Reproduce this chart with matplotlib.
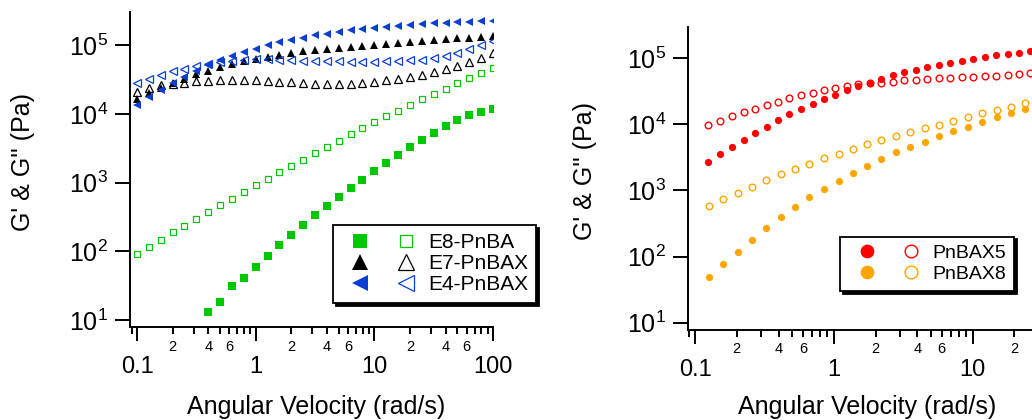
import numpy as np
import matplotlib
matplotlib.use('Agg')
import matplotlib.pyplot as plt
from matplotlib.ticker import LogLocator, FuncFormatter, NullLocator

plt.rcParams['font.family'] = ['Liberation Sans', 'DejaVu Sans']
plt.rcParams['mathtext.fontset'] = 'custom'
plt.rcParams['mathtext.rm'] = 'Liberation Sans'
plt.rcParams['mathtext.it'] = 'Liberation Sans:italic'
plt.rcParams['mathtext.bf'] = 'Liberation Sans:bold'

# left panel: frequency sweep, rad/s
omega_left = [0.1, 0.1259, 0.1585, 0.1995, 0.2512, 0.3162, 0.3981, 0.5012, 0.6310, 0.7943,
              1.0, 1.259, 1.585, 1.995, 2.512, 3.162, 3.981, 5.012, 6.310, 7.943,
              10.0, 12.59, 15.85, 19.95, 25.12, 31.62, 39.81, 50.12, 63.10, 79.43, 100.0]

e8_storage = [12.9, 18.3, 30.9, 40.4, 59.8, 85.5, 122, 171, 239, 334, 452, 611, 826,
              1080, 1460, 1910, 2500, 3270, 4180, 5290, 6680, 8080, 9670, 10600, 11800]
e8_loss = [91, 117, 146, 189, 234, 292, 370, 468, 578, 731, 915, 1130, 1410, 1750, 2160,
           2700, 3300, 4040, 5060, 6190, 7570, 9360, 11100, 13500, 16400, 19600, 23400,
           28000, 33400, 39500, 46200]
e7_storage = [16500, 20000, 24200, 28000, 32700, 38300, 42800, 47900, 54100, 59200, 62600,
              67700, 72300, 76400, 81800, 84600, 88500, 91500, 94600, 97800, 101000, 106000,
              109000, 112000, 116000, 120000, 124000, 127000, 129000, 132000, 135000]
e7_loss = [20900, 23900, 26200, 27600, 28600, 29900, 30200, 30900, 31300, 31300, 30900,
           29900, 29600, 28900, 28000, 27300, 27000, 27300, 27600, 28300, 29600, 30900,
           32700, 34600, 37000, 40900, 44700, 50600, 56500, 66100, 77300]
e4_storage = [13700, 17900, 22400, 28000, 34200, 41800, 51100, 60500, 69900, 80000, 89400,
              100000, 111000, 120000, 129000, 140000, 148000, 156000, 165000, 173000, 179000,
              187000, 193000, 200000, 205000, 209000, 214000, 219000, 221000, 224000, 226000]
e4_loss = [28300, 32300, 37000, 41800, 45700, 50000, 53500, 57200, 59800, 61200, 62600,
           62600, 61200, 60500, 59200, 59200, 58500, 58500, 57800, 57200, 57200, 58500,
           59200, 60500, 61200, 65400, 70000, 77300, 87500, 101000, 117000]

# right panel
omega_x5 = [0.1247, 0.1522, 0.1847, 0.2241, 0.2705, 0.3282, 0.3961, 0.4781, 0.580, 0.7036,
            0.8449, 1.025, 1.237, 1.501, 1.812, 2.198, 2.668, 3.202, 3.906, 4.716, 5.690,
            6.905, 8.380, 10.11, 12.20, 14.81, 17.87, 21.57, 26.03]
x5_storage = [2670, 3570, 4600, 5880, 7500, 9250, 11700, 14200, 17100, 20600, 24500, 28200,
              33200, 38100, 42400, 48700, 55300, 61400, 66600, 73100, 80200, 86000, 92200,
              97700, 104800, 111100, 116400, 121900, 127600]
x5_loss = [9910, 11400, 13300, 15200, 17300, 19400, 21800, 24800, 27600, 29900, 32800, 35600,
           38100, 40300, 41900, 42900, 44400, 46500, 47500, 49200, 49800, 50900, 51500, 52700,
           53300, 54700, 55900, 57200, 59300]

omega_x8 = [0.1255, 0.1591, 0.2031, 0.2562, 0.3264, 0.4143, 0.5254, 0.6661, 0.8457, 1.085,
            1.368, 1.744, 2.199, 2.806, 3.540, 4.517, 5.728, 7.260, 9.267, 11.75, 14.92,
            18.91, 23.97]
x8_storage = [49.6, 77.3, 117, 178, 271, 397, 569, 798, 1054, 1393, 1841, 2324, 2998, 3826,
              4508, 5475, 6683, 7870, 9230, 10870, 12800, 14720, 17290]
x8_loss = [589, 736, 926, 1142, 1427, 1758, 2115, 2543, 3069, 3605, 4246, 5002, 5745, 6683,
           7677, 8733, 9891, 11250, 12800, 14720, 16520, 18530, 21100]

green = '#00c800'
blue = '#0a3fd2'
red = '#ff0000'
orange = '#ffa500'


def minor_label(v, pos):
    m = v / 10 ** np.floor(np.log10(v) + 1e-9)
    k = int(round(m))
    return str(k) if k in (2, 4, 6) else ''


def style_axes(ax, xlim, ylim):
    ax.set_xscale('log')
    ax.set_yscale('log')
    ax.set_xlim(*xlim)
    ax.set_ylim(*ylim)
    for s in ['top', 'right']:
        ax.spines[s].set_visible(False)
    for s in ['left', 'bottom']:
        ax.spines[s].set_linewidth(1.4)
    ax.xaxis.set_major_locator(LogLocator(base=10))
    ax.xaxis.set_minor_locator(LogLocator(base=10, subs=np.arange(2, 10)))
    ax.xaxis.set_major_formatter(FuncFormatter(lambda v, p: '%g' % v))
    ax.xaxis.set_minor_formatter(FuncFormatter(minor_label))
    ax.yaxis.set_major_locator(LogLocator(base=10))
    ax.yaxis.set_minor_locator(NullLocator())
    ax.yaxis.set_major_formatter(FuncFormatter(lambda v, p: '$10^{%d}$' % round(np.log10(v))))
    ax.tick_params(axis='x', which='major', length=10, width=1.4, pad=11, labelsize=17)
    ax.tick_params(axis='x', which='minor', length=5, width=1.4, pad=4, labelsize=10.5)
    ax.tick_params(axis='y', which='major', length=11, width=1.4, pad=5, labelsize=18)
    ax.set_xlabel('Angular Velocity (rad/s)', fontsize=18)
    ax.set_ylabel("G' & G'' (Pa)", fontsize=18)


fig = plt.figure(figsize=(10.32, 4.2), dpi=100)
ax1 = fig.add_axes([0.126, 0.2214, 0.3517, 0.75])
# right panel runs off the right edge of the picture
ax2 = fig.add_axes([0.667, 0.2143, 1 - 0.667, 0.7221])

style_axes(ax1, (0.0873, 100), (7.9, 3.05e5))
style_axes(ax2, (0.0895, 26.8), (7.76, 3.0e5))

ms = 5.2
h1 = ax1.plot(omega_left[6:], e8_storage, ls='none', marker='s', ms=ms, color=green, mew=0)[0]
h2 = ax1.plot(omega_left, e8_loss, ls='none', marker='s', ms=ms - 0.6, color=green, mfc='none', mew=0.9)[0]
h3 = ax1.plot(omega_left, e7_storage, ls='none', marker='^', ms=ms + 0.6, color='black', mew=0)[0]
h4 = ax1.plot(omega_left, e7_loss, ls='none', marker='^', ms=ms + 0.4, color='black', mfc='none', mew=0.9)[0]
h5 = ax1.plot(omega_left, e4_storage, ls='none', marker='<', ms=ms + 0.6, color=blue, mew=0)[0]
h6 = ax1.plot(omega_left, e4_loss, ls='none', marker='<', ms=ms + 0.4, color=blue, mfc='none', mew=0.9)[0]

g1 = ax2.plot(omega_x5, x5_storage, ls='none', marker='o', ms=ms, color=red, mew=0)[0]
g2 = ax2.plot(omega_x5, x5_loss, ls='none', marker='o', ms=ms - 0.4, color=red, mfc='none', mew=1.0)[0]
g3 = ax2.plot(omega_x8, x8_storage, ls='none', marker='o', ms=ms, color=orange, mew=0)[0]
g4 = ax2.plot(omega_x8, x8_loss, ls='none', marker='o', ms=ms - 0.4, color=orange, mfc='none', mew=1.0)[0]

ax1.xaxis.set_label_coords(0.512, -0.215)
ax2.xaxis.set_label_coords(178.4 / 343.7, -0.215)
ax1.yaxis.set_label_coords(-0.262, 0.525)
ax2.yaxis.set_label_coords(-0.265, 0.525)

shadow = {'color': 'black', 'alpha': 1}
leg1 = ax1.legend([h1, h3, h5, h2, h4, h6], ['', '', '', 'E8-PnBA', 'E7-PnBAX', 'E4-PnBAX'],
                  ncol=2, loc='upper left', bbox_to_anchor=(333.3 / 1032, 1 - 225 / 420),
                  bbox_transform=fig.transFigure, borderaxespad=0, fontsize=15,
                  markerscale=2.0, handlelength=1.8, handletextpad=0.16, columnspacing=0.23,
                  labelspacing=0.1, borderpad=0.4, fancybox=False, framealpha=1,
                  edgecolor='black', shadow=shadow)
leg1.get_frame().set_linewidth(1.3)

leg2 = ax2.legend([g1, g3, g2, g4], ['', '', 'PnBAX5', 'PnBAX8'],
                  ncol=2, loc='upper left', bbox_to_anchor=(840 / 1032, 1 - 236.5 / 420),
                  bbox_transform=fig.transFigure, borderaxespad=0, fontsize=14,
                  markerscale=1.9, handlelength=1.98, handletextpad=0.14, columnspacing=0.12,
                  labelspacing=0.18, borderpad=0.4, fancybox=False, framealpha=1,
                  edgecolor='black', shadow=shadow)
leg2.get_frame().set_linewidth(1.3)

fig.savefig('out.png', dpi=100)
